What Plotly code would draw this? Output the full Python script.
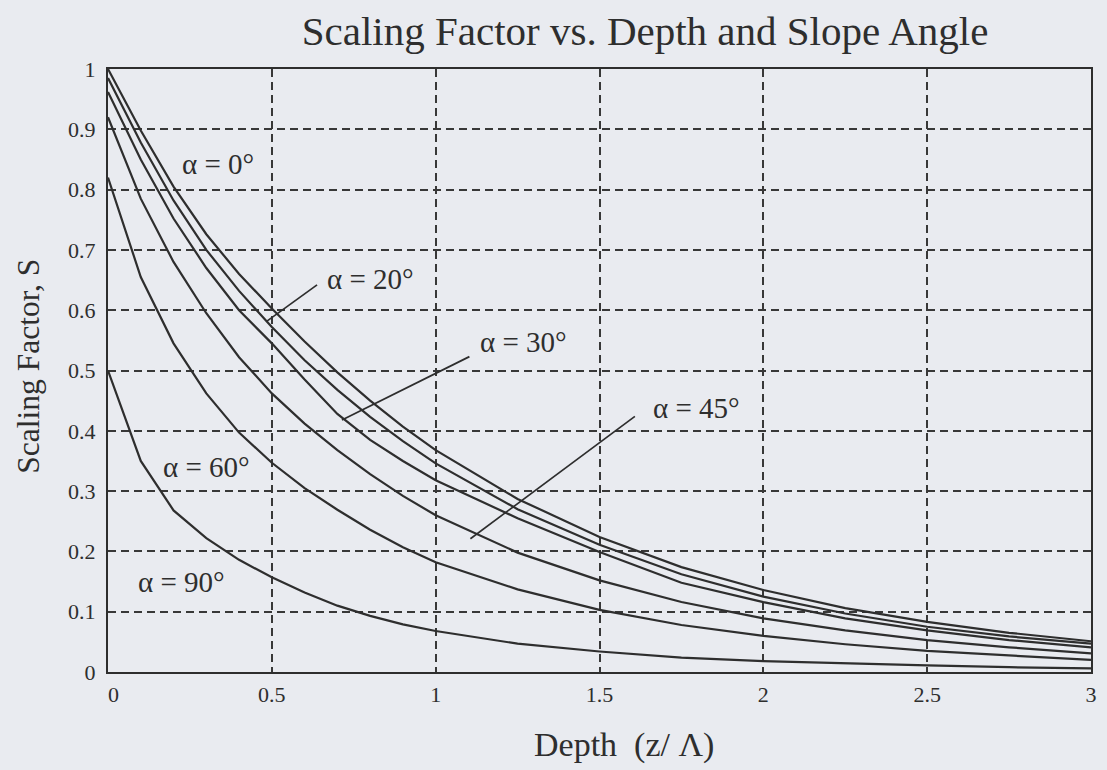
import plotly.graph_objects as go

# Normalised depth z/Lambda at which the scaling factor was tabulated
depth = [0, 0.1, 0.2, 0.3, 0.4, 0.5, 0.6, 0.7, 0.8, 0.9, 1.0,
         1.25, 1.5, 1.75, 2.0, 2.25, 2.5, 2.75, 3.0]

# Scaling factor S for each slope angle alpha
s_alpha_0 = [1.0, 0.898, 0.805, 0.726, 0.660, 0.603, 0.548, 0.497, 0.450, 0.407, 0.368,
             0.287, 0.224, 0.174, 0.136, 0.106, 0.083, 0.065, 0.051]
s_alpha_20 = [0.985, 0.878, 0.782, 0.700, 0.632, 0.572, 0.517, 0.468, 0.423, 0.383, 0.346,
              0.270, 0.211, 0.162, 0.125, 0.097, 0.075, 0.059, 0.047]
s_alpha_30 = [0.962, 0.850, 0.752, 0.670, 0.600, 0.545, 0.485, 0.428, 0.385, 0.350, 0.318,
              0.255, 0.199, 0.148, 0.116, 0.089, 0.069, 0.053, 0.041]
s_alpha_45 = [0.920, 0.785, 0.680, 0.595, 0.522, 0.462, 0.412, 0.368, 0.328, 0.292, 0.260,
              0.198, 0.152, 0.116, 0.089, 0.069, 0.053, 0.041, 0.031]
s_alpha_60 = [0.820, 0.655, 0.545, 0.462, 0.397, 0.347, 0.305, 0.269, 0.236, 0.207, 0.182,
              0.137, 0.103, 0.078, 0.060, 0.046, 0.035, 0.027, 0.020]
s_alpha_90 = [0.500, 0.350, 0.268, 0.222, 0.186, 0.157, 0.132, 0.110, 0.093, 0.079, 0.068,
              0.047, 0.034, 0.024, 0.018, 0.014, 0.011, 0.008, 0.006]

curves = [s_alpha_0, s_alpha_20, s_alpha_30, s_alpha_45, s_alpha_60, s_alpha_90]

x_ticks = [0, 0.5, 1, 1.5, 2, 2.5, 3]
x_tick_text = ["\u00a0\u00a00", "0.5", "1", "1.5", "2", "2.5", "3"]
y_ticks = [0, 0.1, 0.2, 0.3, 0.4, 0.5, 0.6, 0.7, 0.8, 0.9, 1]
y_tick_text = ["0", "0.1", "0.2", "0.3", "0.4", "0.5", "0.6", "0.7", "0.8", "0.9", "1"]

# Curve labels: text, label centre (z, S), optional leader line (z0, S0, z1, S1)
labels = [
    ("α = 0°", 0.335, 0.843, None),
    ("α = 20°", 0.800, 0.651, (0.638, 0.642, 0.483, 0.581)),
    ("α = 30°", 1.268, 0.547, (1.103, 0.523, 0.714, 0.418)),
    ("α = 45°", 1.795, 0.437, (1.608, 0.424, 1.106, 0.221)),
    ("α = 60°", 0.300, 0.340, None),
    ("α = 90°", 0.225, 0.150, None),
]

INK = "#2e2e2e"
PAPER = "#e9ebf0"
SERIF = "Liberation Serif, Times New Roman, serif"

fig = go.Figure()
for s in curves:
    fig.add_trace(go.Scatter(x=depth, y=s, mode="lines",
                             line=dict(color=INK, width=2.2),
                             hoverinfo="skip", showlegend=False))

for text, zx, sy, lead in labels:
    fig.add_annotation(x=zx, y=sy, xref="x", yref="y", text=text, showarrow=False,
                       font=dict(family=SERIF, size=29, color=INK),
                       xanchor="center", yanchor="middle")
    if lead:
        fig.add_shape(type="line", xref="x", yref="y",
                      x0=lead[0], y0=lead[1], x1=lead[2], y1=lead[3],
                      line=dict(color=INK, width=1.7))

axis_common = dict(
    showline=True, linecolor=INK, linewidth=2.4, mirror=True,
    showgrid=True, gridcolor="#383838", gridwidth=1.6, griddash="8px,5px",
    zeroline=False, ticks="",
    tickfont=dict(family=SERIF, size=22, color=INK),
)

fig.update_xaxes(range=[0, 3], tickvals=x_ticks, ticktext=x_tick_text,
                 ticklabelstandoff=1, **axis_common)
fig.update_yaxes(range=[0, 1], tickvals=y_ticks, ticktext=y_tick_text,
                 ticklabelstandoff=6, **axis_common)

fig.add_annotation(text="Depth\u00a0\u00a0(z/\u00a0Λ)", xref="paper", yref="paper",
                   x=0.525, y=-0.121, showarrow=False, xanchor="center", yanchor="middle",
                   font=dict(family=SERIF, size=34, color=INK))
fig.add_annotation(text="Scaling Factor, S", xref="paper", yref="paper",
                   x=-0.081, y=0.507, showarrow=False, textangle=-90,
                   xanchor="center", yanchor="middle",
                   font=dict(family=SERIF, size=31.5, color=INK))

fig.update_layout(
    width=1107, height=770,
    margin=dict(l=108, r=10, t=69, b=98),
    paper_bgcolor=PAPER, plot_bgcolor=PAPER,
    title=dict(text="Scaling Factor vs. Depth and Slope Angle",
               x=0.5827, y=0.96, xanchor="center", yanchor="middle",
               font=dict(family=SERIF, size=41, color=INK)),
)

fig.write_html("out.html")
